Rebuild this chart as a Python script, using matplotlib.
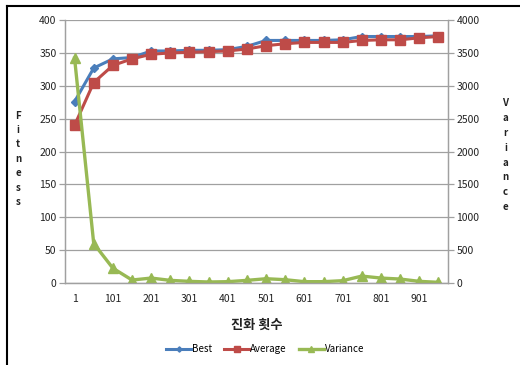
import matplotlib.pyplot as plt
import numpy as np

plt.rcParams['font.family'] = ['Noto Sans CJK KR', 'DejaVu Sans']

generations = [1, 51, 101, 151, 201, 251, 301, 351, 401, 451,
               501, 551, 601, 651, 701, 751, 801, 851, 901, 951]
best = [276, 327, 341, 343, 353, 353, 354, 354, 355, 360,
        369, 369, 369, 369, 370, 375, 375, 375, 375, 376]
average = [240, 305, 331, 341, 348, 350, 351, 352, 353, 356,
           361, 364, 366, 366, 366, 369, 370, 370, 373, 375]
variance = [3420, 600, 225, 45, 75, 40, 25, 15, 20, 40,
            65, 50, 20, 20, 35, 105, 75, 60, 25, 10]

c_best = '#4a7ebb'
c_avg = '#be4b48'
c_var = '#98b954'
grid_c = '#a0a0a0'
txt_c = '#222222'

fig = plt.figure(figsize=(5.2, 3.65), dpi=100)
ax = fig.add_axes([0.125, 0.2247, 0.7365, 0.7203])
ax2 = ax.twinx()

x = np.arange(len(generations))
ax.plot(x, best, color=c_best, lw=2.2, marker='D', ms=4.5, label='Best', zorder=3)
ax.plot(x, average, color=c_avg, lw=2.2, marker='s', ms=7, label='Average', zorder=3)
ax2.plot(x, variance, color=c_var, lw=2.4, marker='^', ms=7.5, label='Variance')

ax.set_xlim(-0.5, len(generations) - 0.5)
ax.set_ylim(0, 400)
ax2.set_ylim(0, 4000)
ax.set_yticks(range(0, 401, 50))
ax2.set_yticks(range(0, 4001, 500))
ax.set_xticks(x[::2])
ax.set_xticklabels([str(g) for g in generations[::2]])

ax.yaxis.grid(True, color=grid_c, lw=0.9)
ax.set_axisbelow(True)
for a in (ax, ax2):
    a.spines['top'].set_visible(False)
    for s in ('left', 'right', 'bottom'):
        a.spines[s].set_color(grid_c)
        a.spines[s].set_linewidth(0.9)
    a.tick_params(axis='y', length=4, width=0.9, color=grid_c,
                  labelsize=7.5, labelcolor=txt_c, pad=2)
ax.tick_params(axis='x', length=0, labelsize=7.5, labelcolor=txt_c, pad=8)

ax.set_xlabel('진화 횟수', fontsize=9.5, fontweight='bold', color=txt_c, labelpad=10)

# stacked single-letter axis titles
fig.text(0.035, 0.565, '\n'.join('Fitness'), fontsize=7, fontweight='bold',
         color=txt_c, ha='center', va='center', linespacing=1.55)
fig.text(0.972, 0.575, '\n'.join('Variance'), fontsize=7, fontweight='bold',
         color=txt_c, ha='center', va='center', linespacing=1.6)

h1, l1 = ax.get_legend_handles_labels()
h2, l2 = ax2.get_legend_handles_labels()
fig.legend(h1 + h2, l1 + l2, loc='center', bbox_to_anchor=(0.51, 0.044),
           ncol=3, frameon=False, fontsize=7, handlelength=2.6,
           handletextpad=0.1, columnspacing=1.2, markerscale=0.6)

# chart frame on the left and top edges
fig.add_artist(plt.Line2D([0.0125, 0.0125], [0, 0.984], color='black', lw=1.5))
fig.add_artist(plt.Line2D([0.0125, 1.0], [0.984, 0.984], color='black', lw=1.5))

fig.savefig('out.png', dpi=100)
